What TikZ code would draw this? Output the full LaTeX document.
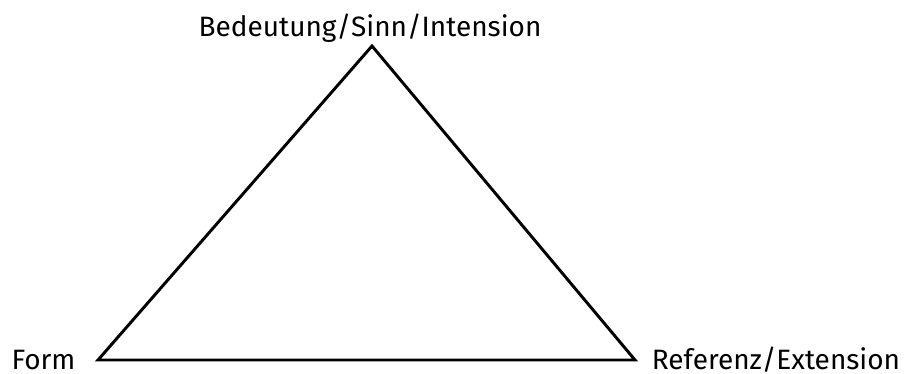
\documentclass[tikz,border=0pt]{standalone}
\usepackage{fontspec}
\setmainfont{Fira Sans}
\begin{document}
\begin{tikzpicture}[x=0.75pt,y=-0.75pt,
  lbl/.style={inner sep=0pt,anchor=base,font=\fontsize{21}{25}\selectfont},
  edge/.style={line width=2.2pt,line join=miter}]
\useasboundingbox (0,0) rectangle (907,374);
\coordinate (F) at (98,360);
\coordinate (R) at (635,360);
\coordinate (B) at (372,46);
\draw[edge] (F) -- (B) -- (R) -- cycle;
\node[lbl] (tb) at (370,37) {Bedeutung/Sinn/Intension};
\node[lbl] (tf) at (43.5,369) {Form};
\node[lbl] (tr) at (776,369) {Referenz/Extension};
\end{tikzpicture}
\end{document}
